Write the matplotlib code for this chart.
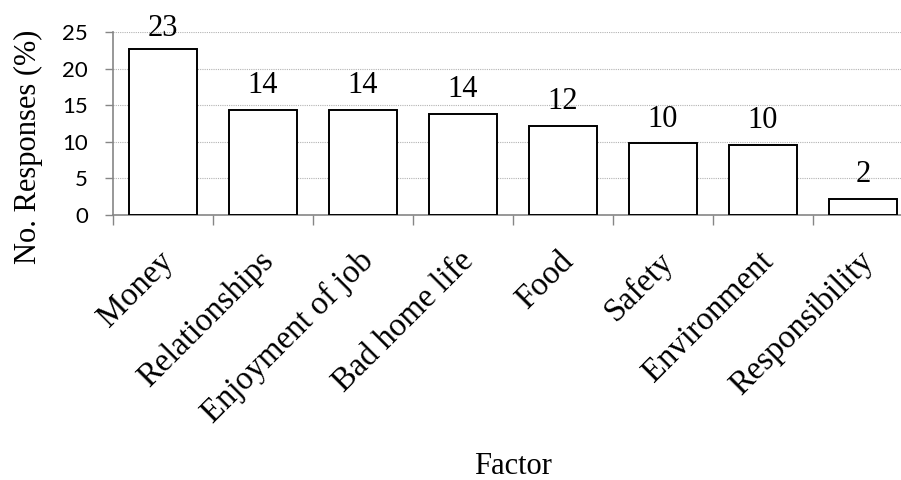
import matplotlib
matplotlib.use("Agg")
import matplotlib.pyplot as plt
import matplotlib.transforms as mtransforms

# 数据
factors = ["Money", "Relationships", "Enjoyment of job", "Bad home life",
           "Food", "Safety", "Environment", "Responsibility"]
values = [22.7, 14.4, 14.4, 13.8, 12.2, 9.8, 9.6, 2.2]
labels = ["23", "14", "14", "14", "12", "10", "10", "2"]
yticks = [0, 5, 10, 15, 20, 25]

serif = "Liberation Serif"
sans = "Lato"
grey = "#868686"

fig = plt.figure(figsize=(9.01, 4.80), dpi=100)
W, H = 901, 480
ax = fig.add_axes([113 / W, (H - 215) / H, 800 / W, 183 / H])

x = list(range(len(factors)))
ax.bar(x, values, width=0.68, color="white", edgecolor="black", linewidth=1.4, zorder=3)

# 数值标签
for xi, v, lab in zip(x, values, labels):
    dy = 9 if v > 20 else 12
    ax.annotate(lab, (xi, v), xytext=(0, dy), textcoords="offset points",
                ha="center", va="baseline", fontsize=22, family=serif, zorder=4)

ax.set_xlim(-0.5, len(factors) - 0.5)
ax.set_ylim(0, 25)
ax.set_yticks(yticks)
ax.tick_params(axis="y", length=6, width=1, color=grey, pad=12, labelsize=16)
for t in ax.get_yticklabels():
    t.set_family(sans)

# x 轴: 分隔刻度 + 类别标签
ax.set_xticks([i - 0.5 for i in range(len(factors) + 1)])
ax.set_xticklabels([])
ax.tick_params(axis="x", which="major", length=7, width=1, color=grey)
ax.set_xticks(x, minor=True)
ax.set_xticklabels(factors, minor=True, rotation=45, ha="right", va="center",
                   rotation_mode="anchor", fontsize=23.5, family=serif)
ax.tick_params(axis="x", which="minor", length=0, pad=30)
off = mtransforms.ScaledTranslation(4 / 72, 0, fig.dpi_scale_trans)
for t in ax.get_xticklabels(minor=True):
    t.set_transform(t.get_transform() + off)

ax.yaxis.grid(True, linestyle=(0, (1, 1)), color="#b3b3b3", linewidth=0.8, zorder=0)
for s in ["top", "right"]:
    ax.spines[s].set_visible(False)
for s in ["left", "bottom"]:
    ax.spines[s].set_color(grey)
    ax.spines[s].set_linewidth(1.2)

fig.text(28 / W, 1 - 147 / H, "No. Responses (%)", rotation=90, ha="center",
         va="center", fontsize=22, family=serif)
fig.text(513 / W, 1 - 467 / H, "Factor", ha="center", va="center",
         fontsize=22, family=serif)

fig.savefig("out.png", dpi=100)
